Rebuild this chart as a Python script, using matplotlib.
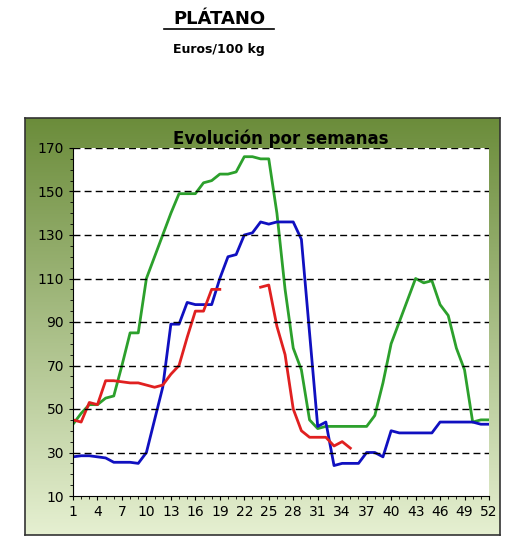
import numpy as np
import matplotlib
matplotlib.use("Agg")
import matplotlib.pyplot as plt
from matplotlib.ticker import MultipleLocator

weeks = list(range(1, 53))
green = [43,48,52,52,55,56,70,85,85,110,120,130,140,149,149,149,154,155,158,158,159,166,
         166,165,165,140,105,78,68,45,41,42,42,42,42,42,42,47,62,80,90,100,110,108,109,98,
         93,78,68,44,45,45]
blue = [28,28.5,28.5,28,27.5,25.5,25.5,25.5,25,30,45,60,89,89,99,98,98,98,110,120,121,130,
        131,136,135,136,136,136,128,85,42,44,24,25,25,25,30,30,28,40,39,39,39,39,39,44,44,44,
        44,44,43,43]
red = [45,44,53,52,63,63,62.5,62,62,61,60,61,66,70,83,95,95,105,105,None,None,None,None,
       106,107,88,75,50,40,37,37,37,33,35,32] + [None]*17
yticks = list(range(10, 171, 20))
xticks = list(range(1, 53, 3))

fig = plt.figure(figsize=(5.28, 5.53), dpi=100)
fig.patch.set_facecolor("white")

# gradient panel
bg = fig.add_axes([25/528, 1-535/553, 475/528, 417/553])
grad = np.linspace(0, 1, 256).reshape(-1, 1)
top = np.array([0.42, 0.55, 0.23]); bot = np.array([0.90, 0.94, 0.82])
img = top + (bot - top) * grad[..., None].squeeze()[:, None] if False else None
cols = (top[None, :] + (bot - top)[None, :] * grad).reshape(256, 1, 3)
bg.imshow(cols, aspect="auto", extent=[0, 1, 0, 1])
bg.set_xticks([]); bg.set_yticks([])
for s in bg.spines.values():
    s.set_color("#333333"); s.set_linewidth(1.2)

ax = fig.add_axes([73/528, 1-496/553, 416/528, 348/553])
ax.set_facecolor("white")
r = [np.nan if v is None else v for v in red]
ax.plot(weeks, green, color="#2ca02c", lw=2)
ax.plot(weeks, blue, color="#1010c0", lw=2)
ax.plot(weeks, r, color="#e02020", lw=2)
ax.set_xlim(1, 52); ax.set_ylim(10, 170)
ax.set_yticks(yticks)
ax.yaxis.set_minor_locator(MultipleLocator(5))
ax.set_xticks(xticks)
ax.xaxis.set_minor_locator(MultipleLocator(1))
ax.tick_params(labelsize=10, direction="out", length=3)
ax.tick_params(which="minor", length=2)
for y in yticks[1:]:
    ax.axhline(y, color="black", ls=(0, (5, 3)), lw=1)
for s in ["top", "right"]:
    ax.spines[s].set_visible(False)
ax.set_title("Evolución por semanas", fontsize=12, fontweight="bold", pad=3)

fig.text(0.415, 0.965, "PLÁTANO", ha="center", va="center", fontsize=13,
         fontweight="bold")
fig.add_artist(plt.Line2D([0.31, 0.518], [0.947, 0.947], color="black", lw=1.2))
fig.text(0.415, 0.91, "Euros/100 kg", ha="center", va="center", fontsize=9,
         fontweight="bold")
fig.savefig("out.png", dpi=100)
